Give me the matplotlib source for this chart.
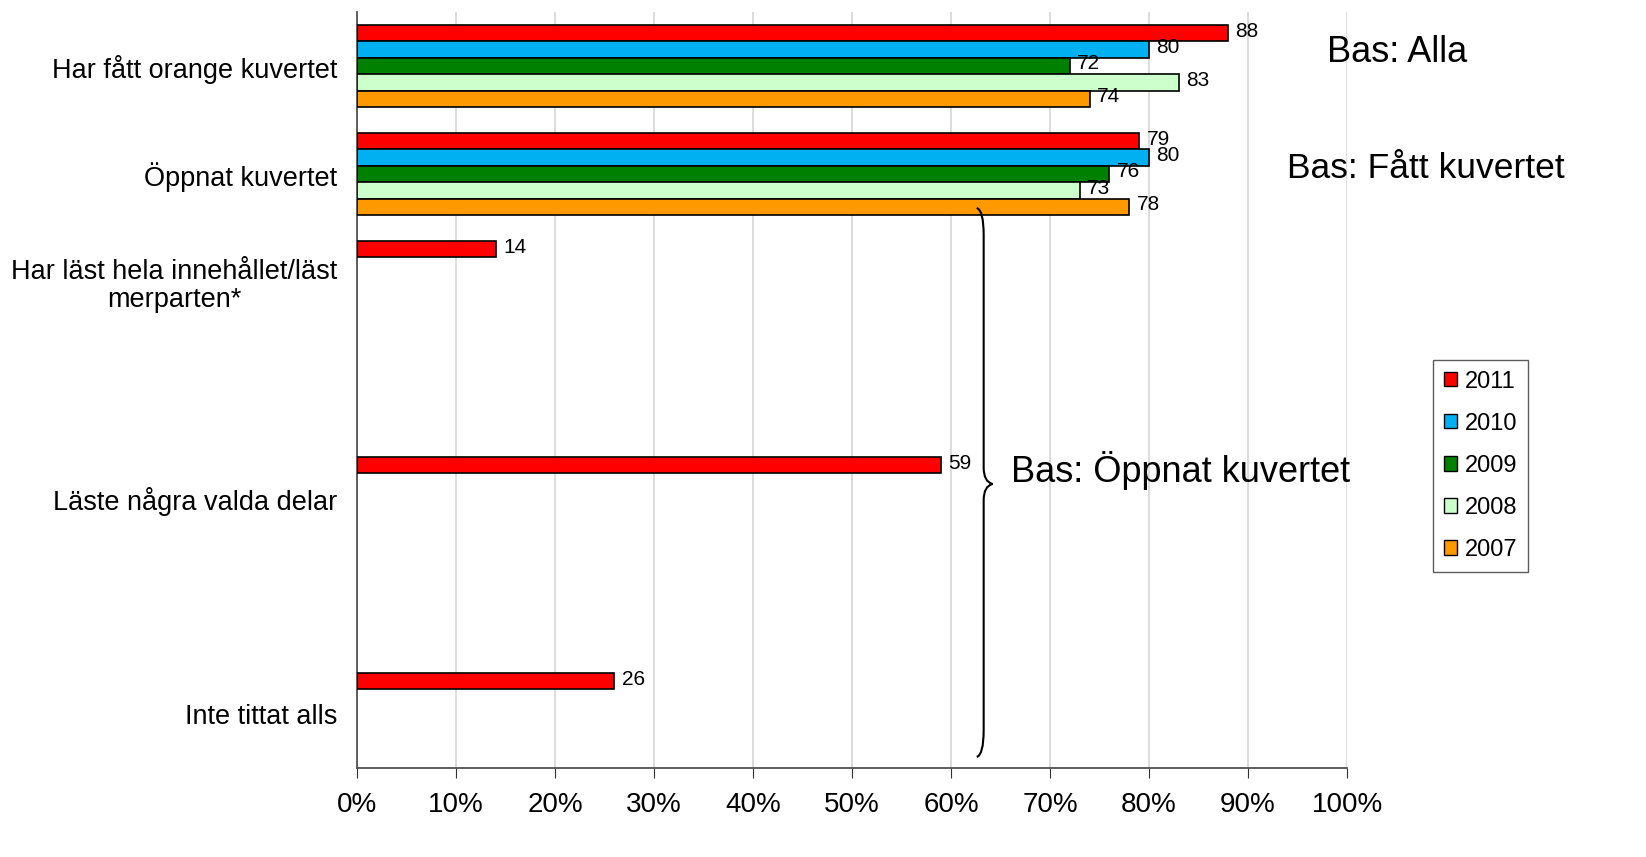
import matplotlib
matplotlib.use("Agg")
import matplotlib.pyplot as plt
from matplotlib.patches import Patch, PathPatch
from matplotlib.path import Path
import numpy as np

plt.rcParams['font.family'] = ['Liberation Sans', 'DejaVu Sans']

categories = ["Har fått orange kuvertet", "Öppnat kuvertet",
              "Har läst hela innehållet/läst\nmerparten*", "",
              "Läste några valda delar", "", "Inte tittat alls"]
years = ["2011", "2010", "2009", "2008", "2007"]
colors = ["#FF0000", "#00B0F0", "#008000", "#CCFFCC", "#FF9900"]
# values per year for each category slot (None = no bar)
values = {
    "2011": [88, 79, 14, None, 59, None, 26],
    "2010": [80, 80, None, None, None, None, None],
    "2009": [72, 76, None, None, None, None, None],
    "2008": [83, 73, None, None, None, None, None],
    "2007": [74, 78, None, None, None, None, None],
}
xticks = [0, 10, 20, 30, 40, 50, 60, 70, 80, 90, 100]
xticklabels = [f"{t}%" for t in xticks]

W, H = 1646, 857
fig = plt.figure(figsize=(W/100, H/100), dpi=100)
ax = fig.add_axes([357/W, 1-768/H, (1347-357)/W, (768-12)/H])

bw = 0.152
for j, (yr, col) in enumerate(zip(years, colors)):
    for i, v in enumerate(values[yr]):
        if v is None:
            continue
        yc = i + (j - 2) * bw
        ax.barh(yc, v, height=bw, color=col, edgecolor="black", linewidth=1.2, zorder=3)
        ax.text(v + 0.75, yc - 0.02, str(v), va="center", ha="left", fontsize=15, zorder=4)

ax.set_xlim(0, 100)
ax.set_ylim(6.5, -0.5)
ax.set_xticks(xticks)
ax.set_xticklabels(xticklabels, fontsize=20)
ax.set_yticks(range(len(categories)))
ax.set_yticklabels(categories, fontsize=19.5, multialignment="center", linespacing=1.1)
ax.tick_params(axis="y", length=0, pad=14)
ax.tick_params(axis="x", length=7, direction="out", pad=10, color="#333333")
ax.grid(axis="x", color="#D9D9D9", linewidth=1.3, zorder=0)
ax.set_axisbelow(True)
for s in ["top", "right"]:
    ax.spines[s].set_visible(False)
for s in ["left", "bottom"]:
    ax.spines[s].set_color("#444444")
    ax.spines[s].set_linewidth(1.2)

# curly brace
xl, xm, xt = 62.6, 63.3, 64.2
yt, ymid, yb = 1.315, 3.87, 6.398
verts = [(xl, yt), (xm, yt + 0.02), (xm, yt + 0.25),
         (xm, ymid - 0.15),
         (xm, ymid - 0.02), (xt, ymid),
         (xm, ymid + 0.02), (xm, ymid + 0.15),
         (xm, yb - 0.25),
         (xm, yb - 0.02), (xl, yb)]
codes = [Path.MOVETO, Path.CURVE3, Path.CURVE3,
         Path.LINETO,
         Path.CURVE3, Path.CURVE3,
         Path.CURVE3, Path.CURVE3,
         Path.LINETO,
         Path.CURVE3, Path.CURVE3]
ax.add_patch(PathPatch(Path(verts, codes), facecolor="none", edgecolor="black",
                       linewidth=1.5, zorder=5, clip_on=False))

fig.text(1327/W, 1-52/H, "Bas: Alla", fontsize=26, va="center", ha="left")
fig.text(1287/W, 1-168/H, "Bas: Fått kuvertet", fontsize=25.5, va="center", ha="left")
fig.text(1011/W, 1-470/H, "Bas: Öppnat kuvertet", fontsize=26, va="center", ha="left")

handles = [Patch(facecolor=c, edgecolor="black", label=y) for y, c in zip(years, colors)]
leg = fig.legend(handles=handles, loc="upper left", bbox_to_anchor=(1433/W, 1-360/H),
                 fontsize=17, frameon=True, fancybox=False, handlelength=0.55,
                 handleheight=0.55, handletextpad=0.35, labelspacing=0.85,
                 borderpad=0.45, borderaxespad=0)
leg.get_frame().set_edgecolor("#333333")
leg.get_frame().set_linewidth(1.0)

fig.savefig("out.png", dpi=100)
